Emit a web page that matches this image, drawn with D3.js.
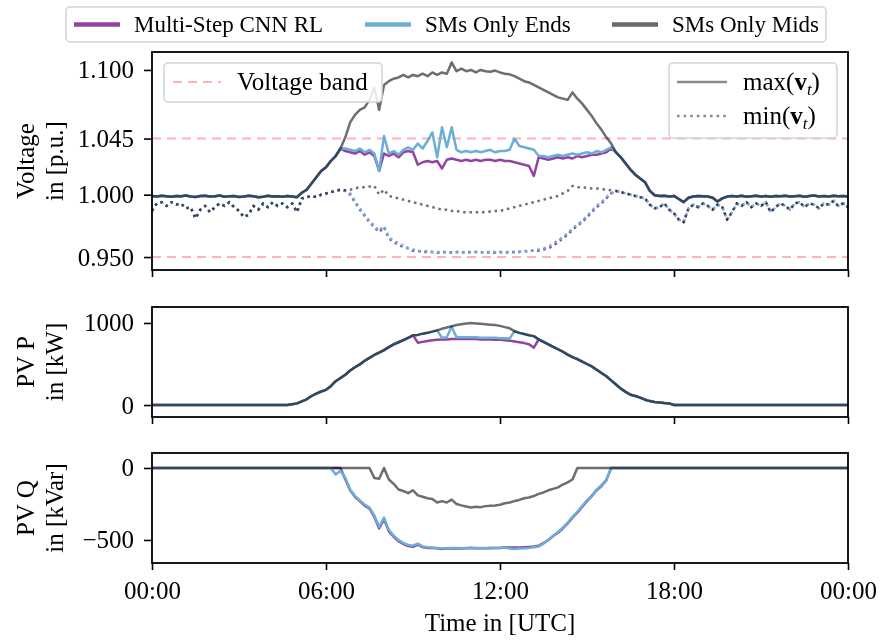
<!DOCTYPE html>
<html lang="en">
<head>
<meta charset="UTF-8">
<title>Voltage, PV P and PV Q</title>
<script src="https://d3js.org/d3.v7.min.js"></script>
<style>
  body { margin: 0; background: #fff; }
  text { font-family: "Liberation Serif", serif; fill: #000; }
</style>
</head>
<body>
<div id="chart"></div>
<script>

// time grid: one value every 10 minutes, 00:00 .. 24:00
const hours = d3.range(0, 24 * 60 + 1, 10).map(m => m / 60);

const xTickHours = [0, 6, 12, 18, 24];
const xTickLabels = ["00:00", "06:00", "12:00", "18:00", "00:00"];
const vTicks = [0.95, 1.0, 1.045, 1.1];
const pTicks = [0, 1000];
const qTicks = [-500, 0];
const vBand = [1.045, 0.95];

const methodNames = ["Multi-Step CNN RL", "SMs Only Ends", "SMs Only Mids"];
const methodColors = ["#93439f", "#6baed6", "#6e6e6e"];

// max voltage, shared night parts (00:00-06:30 and 16:00-24:00)
const vMaxMorning = [0.9990, 0.9985, 0.9992, 0.9988, 0.9983, 0.9990, 0.9987, 0.9993, 0.9986, 0.9982,
  0.9989, 0.9991, 0.9985, 0.9988, 0.9993, 0.9984, 0.9987, 0.9990, 0.9982, 0.9986,
  0.9992, 0.9987, 0.9980, 0.9984, 0.9991, 0.9985, 0.9988, 0.9984, 0.9990, 0.9986,
  0.9980, 1.0015, 1.0040, 1.0090, 1.0140, 1.0190, 1.0220, 1.0270, 1.0310, 1.0370];
const vMaxEvening = [1.034, 1.030, 1.025, 1.020, 1.016, 1.013, 1.010, 1.003, 0.9995, 0.9990,
  0.9992, 0.9985, 0.9990, 0.9965, 0.9940, 0.9975, 0.9985, 0.9990, 0.9988, 0.9985,
  0.9975, 0.9945, 0.9970, 0.9985, 0.9990, 0.9986, 0.9991, 0.9984, 0.9988, 0.9992,
  0.9985, 0.9989, 0.9983, 0.9990, 0.9987, 0.9992, 0.9985, 0.9988, 0.9991, 0.9984,
  0.9989, 0.9993, 0.9986, 0.9990, 0.9985, 0.9991, 0.9987, 0.9989, 0.9986];
// max voltage 06:40-15:50 per method
const vMaxCnnDay = [1.035, 1.034, 1.033, 1.035, 1.032, 1.034, 1.031, 1.019, 1.033, 1.031,
  1.033, 1.030, 1.034, 1.035, 1.034, 1.024, 1.026, 1.027, 1.026, 1.027,
  1.021, 1.028, 1.029, 1.028, 1.027, 1.028, 1.027, 1.028, 1.027, 1.028,
  1.028, 1.027, 1.028, 1.027, 1.027, 1.026, 1.025, 1.024, 1.023, 1.015,
  1.030, 1.029, 1.028, 1.029, 1.030, 1.029, 1.030, 1.029, 1.031, 1.030,
  1.031, 1.032, 1.032, 1.033, 1.034, 1.037];
const vMaxEndsDay = [1.037, 1.036, 1.035, 1.037, 1.034, 1.036, 1.033, 1.019, 1.047, 1.033,
  1.035, 1.032, 1.036, 1.038, 1.036, 1.041, 1.037, 1.043, 1.050, 1.030,
  1.054, 1.038, 1.054, 1.036, 1.034, 1.035, 1.034, 1.035, 1.034, 1.035,
  1.036, 1.034, 1.035, 1.035, 1.036, 1.045, 1.039, 1.038, 1.037, 1.036,
  1.031, 1.031, 1.030, 1.031, 1.032, 1.031, 1.032, 1.033, 1.032, 1.033,
  1.034, 1.033, 1.035, 1.034, 1.036, 1.038];
const vMaxMidsDay = [1.046, 1.058, 1.064, 1.068, 1.070, 1.076, 1.086, 1.068, 1.088, 1.091,
  1.093, 1.094, 1.096, 1.094, 1.096, 1.095, 1.097, 1.095, 1.098, 1.096,
  1.098, 1.097, 1.106, 1.099, 1.101, 1.099, 1.100, 1.098, 1.100, 1.099,
  1.0985, 1.0995, 1.098, 1.097, 1.0965, 1.095, 1.093, 1.091, 1.090, 1.088,
  1.086, 1.084, 1.082, 1.080, 1.078, 1.077, 1.076, 1.082, 1.077, 1.073,
  1.068, 1.063, 1.057, 1.052, 1.046, 1.041];

// min voltage
const vMinMorning = [0.987, 0.993, 0.994, 0.991, 0.994, 0.992, 0.993, 0.989, 0.990, 0.981,
  0.988, 0.991, 0.986, 0.990, 0.993, 0.991, 0.994, 0.990, 0.987, 0.982,
  0.984, 0.991, 0.988, 0.993, 0.990, 0.994, 0.991, 0.993, 0.990, 0.993,
  0.986, 0.997, 0.998, 0.999, 0.998, 1.000, 1.001, 1.002, 1.003, 1.004];
const vMinEvening = [1.003, 1.002, 1.001, 1.000, 0.999, 0.998, 0.997, 0.992, 0.989, 0.990,
  0.993, 0.988, 0.985, 0.980, 0.978, 0.989, 0.992, 0.990, 0.993, 0.991,
  0.988, 0.992, 0.990, 0.980, 0.986, 0.993, 0.991, 0.994, 0.990, 0.993,
  0.991, 0.994, 0.986, 0.990, 0.993, 0.991, 0.988, 0.993, 0.994, 0.990,
  0.993, 0.992, 0.989, 0.993, 0.992, 0.995, 0.991, 0.993, 0.990];
const vMinCnnDay = [1.003, 1.000, 0.994, 0.988, 0.983, 0.978, 0.974, 0.970, 0.974, 0.965,
  0.962, 0.960, 0.958, 0.957, 0.955, 0.955, 0.954, 0.954, 0.954, 0.9535,
  0.954, 0.954, 0.9535, 0.954, 0.954, 0.9535, 0.954, 0.954, 0.954, 0.9535,
  0.954, 0.9535, 0.954, 0.954, 0.9535, 0.954, 0.954, 0.9545, 0.955, 0.955,
  0.955, 0.956, 0.957, 0.959, 0.962, 0.965, 0.968, 0.972, 0.975, 0.978,
  0.982, 0.986, 0.990, 0.993, 0.997, 1.001];
const vMinEndsDay = [1.003, 1.001, 0.995, 0.989, 0.984, 0.979, 0.975, 0.971, 0.975, 0.966,
  0.963, 0.961, 0.959, 0.957, 0.956, 0.955, 0.9545, 0.955, 0.954, 0.954,
  0.954, 0.9535, 0.954, 0.954, 0.9535, 0.954, 0.954, 0.954, 0.9535, 0.954,
  0.954, 0.954, 0.9535, 0.954, 0.954, 0.954, 0.9545, 0.954, 0.955, 0.955,
  0.956, 0.957, 0.958, 0.961, 0.963, 0.966, 0.969, 0.973, 0.976, 0.979,
  0.983, 0.987, 0.991, 0.994, 0.998, 1.001];
const vMinMidsDay = [1.0035, 1.004, 1.005, 1.006, 1.006, 1.0065, 1.007, 1.000, 1.004, 0.999,
  0.998, 0.997, 0.996, 0.995, 0.994, 0.993, 0.992, 0.991, 0.990, 0.989,
  0.988, 0.988, 0.987, 0.987, 0.986, 0.986, 0.986, 0.986, 0.986, 0.986,
  0.9865, 0.987, 0.987, 0.988, 0.989, 0.990, 0.991, 0.992, 0.993, 0.994,
  0.995, 0.996, 0.997, 0.998, 0.999, 1.001, 1.003, 1.007, 1.006, 1.006,
  1.0055, 1.005, 1.005, 1.0045, 1.004, 1.0035];

// PV active power, available profile (all methods outside 09:10-13:10)
const pShared = [0, 0, 0, 0, 0, 0, 0, 0, 0, 0,
  0, 0, 0, 0, 0, 0, 0, 0, 0, 0,
  0, 0, 0, 0, 0, 0, 0, 0, 0,
  10, 20, 45, 70, 110, 140, 165, 185, 230, 290,
  330, 370, 420, 460, 495, 540, 575, 610, 640, 670,
  705, 740, 765, 790, 820, 850, 855, 870, 880, 895,
  910, 930, 945, 960, 975, 985, 995, 1000, 995, 990,
  985, 980, 975, 965, 950, 935, 900, 880, 865, 850,
  840, 800, 770, 740, 710, 680, 650, 615, 585, 560,
  530, 500, 470, 430, 390, 350, 300, 250, 200, 160,
  125, 110, 90, 65, 48, 38, 32, 25, 20, 0,
  0, 0, 0, 0, 0, 0, 0, 0, 0, 0,
  0, 0, 0, 0, 0, 0, 0, 0, 0, 0,
  0, 0, 0, 0, 0, 0, 0, 0, 0, 0,
  0, 0, 0, 0, 0, 0];
// curtailed P 09:10-13:10
const pCnnMid = [760, 770, 780, 790, 795, 800, 800, 805, 805, 805, 805, 805, 805,
  800, 800, 800, 795, 795, 790, 785, 775, 765, 755, 740, 700];
const pEndsMid = [855, 870, 880, 895, 910, 820, 825, 955, 825, 825, 825, 825, 825,
  820, 820, 820, 820, 815, 815, 810, 900, 880, 865, 850, 840];

// PV reactive power: zero at night (00:00-06:10 and 16:00-24:00)
const qMorning = [0, 0, 0, 0, 0, 0, 0, 0, 0, 0, 0, 0, 0, 0, 0, 0, 0, 0, 0,
  0, 0, 0, 0, 0, 0, 0, 0, 0, 0, 0, 0, 0, 0, 0, 0, 0, 0, 0];
const qEvening = [0, 0, 0, 0, 0, 0, 0, 0, 0, 0, 0, 0, 0, 0, 0, 0, 0, 0, 0, 0, 0, 0, 0, 0, 0,
  0, 0, 0, 0, 0, 0, 0, 0, 0, 0, 0, 0, 0, 0, 0, 0, 0, 0, 0, 0, 0, 0, 0, 0];
// Q 06:20-15:50 per method
const qCnnDay = [0, 0, -80, -155, -200, -230, -262, -282, -340, -420,
  -355, -440, -478, -508, -528, -542, -548, -532, -550, -555,
  -556, -558, -562, -560, -560, -558, -560, -558, -557, -558,
  -558, -557, -557, -556, -555, -550, -552, -553, -552, -550,
  -548, -546, -540, -522, -500, -473, -450, -420, -385, -345,
  -310, -270, -230, -195, -155, -125, -85, 0];
const qEndsDay = [-45, -20, -70, -150, -195, -225, -255, -275, -330, -410,
  -345, -430, -470, -500, -520, -535, -540, -525, -545, -550,
  -552, -555, -560, -558, -556, -555, -558, -555, -553, -555,
  -556, -555, -554, -555, -555, -553, -560, -562, -560, -558,
  -555, -550, -545, -525, -500, -470, -445, -415, -380, -340,
  -305, -265, -225, -190, -150, -120, -80, 0];
const qMidsDay = [0, 0, 0, 0, 0, 0, 0, 0, -70, -75,
  0, -80, -110, -150, -160, -175, -155, -190, -200, -210,
  -215, -240, -230, -240, -220, -250, -260, -268, -275, -270,
  -272, -265, -262, -260, -255, -245, -240, -230, -222, -210,
  -205, -195, -180, -170, -155, -145, -135, -115, -100, -80,
  0, 0, 0, 0, 0, 0, 0, 0];

// assemble full-day series for each method
const series = [
  {
    name: methodNames[0], color: methodColors[0], blend: "normal",
    vmax: [...vMaxMorning, ...vMaxCnnDay, ...vMaxEvening],
    vmin: [...vMinMorning, ...vMinCnnDay, ...vMinEvening],
    p: [...pShared.slice(0, 55), ...pCnnMid, ...pShared.slice(80)],
    q: [...qMorning, ...qCnnDay, ...qEvening]
  },
  {
    name: methodNames[1], color: methodColors[1], blend: "normal",
    vmax: [...vMaxMorning, ...vMaxEndsDay, ...vMaxEvening],
    vmin: [...vMinMorning, ...vMinEndsDay, ...vMinEvening],
    p: [...pShared.slice(0, 55), ...pEndsMid, ...pShared.slice(80)],
    q: [...qMorning, ...qEndsDay, ...qEvening]
  },
  {
    name: methodNames[2], color: methodColors[2], blend: "multiply",
    vmax: [...vMaxMorning, ...vMaxMidsDay, ...vMaxEvening],
    vmin: [...vMinMorning, ...vMinMidsDay, ...vMinEvening],
    p: pShared,
    q: [...qMorning, ...qMidsDay, ...qEvening]
  }
];

const width = 883, height = 642;
const fontSize = 25;

const svg = d3.select("#chart")
  .append("svg")
  .attr("width", width)
  .attr("height", height)
  .style("background", "#fff");

const x = d3.scaleLinear().domain([0, 24]).range([152, 848]);
const yV = d3.scaleLinear().domain([0.9396, 1.1144]).range([270, 52]);
const yP = d3.scaleLinear().domain([-146, 1195]).range([417, 307]);
const yQ = d3.scaleLinear().domain([-660, 104]).range([563, 453]);

function styleAxis(g) {
  g.select(".domain").remove();
  g.selectAll(".tick line").attr("stroke", "#000").attr("stroke-width", 1.6);
  g.selectAll(".tick text")
    .attr("font-family", "Liberation Serif")
    .attr("font-size", fontSize)
    .attr("fill", "#000");
}

function drawPanel(y, yTicks, yFormat, showX, labelLines, draw) {
  const [bottom, top] = y.range();
  const g = svg.append("g");

  draw(g);

  // x axis
  g.append("g")
    .attr("transform", `translate(0,${bottom})`)
    .call(d3.axisBottom(x).tickValues(xTickHours).tickSize(7).tickPadding(11)
      .tickFormat((d, i) => showX ? xTickLabels[i] : ""))
    .call(styleAxis);

  // y axis
  g.append("g")
    .attr("transform", `translate(${x.range()[0]},0)`)
    .call(d3.axisLeft(y).tickValues(yTicks).tickSize(8).tickPadding(10).tickFormat(yFormat))
    .call(styleAxis);

  // frame
  g.append("rect")
    .attr("x", x.range()[0]).attr("y", top)
    .attr("width", x.range()[1] - x.range()[0]).attr("height", bottom - top)
    .attr("fill", "none").attr("stroke", "#000").attr("stroke-width", 1.8);

  // two-line y label
  const lab = g.append("text")
    .attr("transform", `translate(34,${(top + bottom) / 2}) rotate(-90)`)
    .attr("text-anchor", "middle")
    .attr("font-size", fontSize);
  lab.append("tspan").attr("x", 0).attr("dy", 0).text(labelLines[0]);
  lab.append("tspan").attr("x", 0).attr("dy", 29).text(labelLines[1]);
  return g;
}

function addLine(g, values, y, s, dotted) {
  g.append("path")
    .datum(values)
    .attr("fill", "none")
    .attr("stroke", s.color)
    .attr("stroke-width", dotted ? 2.5 : 2.5)
    .attr("stroke-dasharray", dotted ? "2.5,3.8" : null)
    .attr("stroke-linejoin", "round")
    .style("mix-blend-mode", s.blend)
    .attr("d", d3.line().x((d, i) => x(hours[i])).y(d => y(d)));
}

// voltage panel
drawPanel(yV, vTicks, d3.format(".3f"), false, ["Voltage", "in [p.u.]"], g => {
  g.selectAll(".band")
    .data(vBand)
    .join("line")
    .attr("x1", x(0)).attr("x2", x(24))
    .attr("y1", d => yV(d)).attr("y2", d => yV(d))
    .attr("stroke", "#ffb3b3").attr("stroke-width", 2)
    .attr("stroke-dasharray", "9,6");
  series.forEach(s => addLine(g, s.vmax, yV, s, false));
  series.forEach(s => addLine(g, s.vmin, yV, s, true));
});

// PV P panel
drawPanel(yP, pTicks, d3.format("d"), false, ["PV P", "in [kW]"], g => {
  series.forEach(s => addLine(g, s.p, yP, s, false));
});

// PV Q panel
drawPanel(yQ, qTicks, d3.format("d"), true, ["PV Q", "in [kVar]"], g => {
  series.forEach(s => addLine(g, s.q, yQ, s, false));
});

// x label
svg.append("text")
  .attr("x", 500).attr("y", 631)
  .attr("text-anchor", "middle")
  .attr("font-size", fontSize)
  .text("Time in [UTC]");

// top legend
const legTop = svg.append("g");
legTop.append("rect")
  .attr("x", 66).attr("y", 7).attr("width", 760).attr("height", 35).attr("rx", 4)
  .attr("fill", "#fff").attr("stroke", "#d4d4d4").attr("stroke-width", 1.5);
const legX = [74, 365, 612];
series.forEach((s, i) => {
  legTop.append("line")
    .attr("x1", legX[i]).attr("x2", legX[i] + 46)
    .attr("y1", 24.5).attr("y2", 24.5)
    .attr("stroke", i === 2 ? "#6a6a6a" : s.color).attr("stroke-width", 4.5);
  legTop.append("text")
    .attr("x", legX[i] + 60).attr("y", 32)
    .attr("font-size", 23)
    .text(s.name);
});

// voltage band legend
const legBand = svg.append("g");
legBand.append("rect")
  .attr("x", 164).attr("y", 63).attr("width", 218).attr("height", 39).attr("rx", 4)
  .attr("fill", "#fff").attr("fill-opacity", 0.85).attr("stroke", "#d4d4d4").attr("stroke-width", 1.5);
legBand.append("line")
  .attr("x1", 173).attr("x2", 221).attr("y1", 82).attr("y2", 82)
  .attr("stroke", "#ffb3b3").attr("stroke-width", 2).attr("stroke-dasharray", "9,6");
legBand.append("text").attr("x", 237).attr("y", 90).attr("font-size", fontSize).text("Voltage band");

// max/min legend
const legMm = svg.append("g");
legMm.append("rect")
  .attr("x", 669).attr("y", 63).attr("width", 168).attr("height", 75).attr("rx", 4)
  .attr("fill", "#fff").attr("fill-opacity", 0.85).attr("stroke", "#d4d4d4").attr("stroke-width", 1.5);
[["max", 82, null], ["min", 116, "2.6,4"]].forEach(([fn, yy, dash]) => {
  legMm.append("line")
    .attr("x1", 677).attr("x2", 727).attr("y1", yy).attr("y2", yy)
    .attr("stroke", "#8a8a8a").attr("stroke-width", 2.6).attr("stroke-dasharray", dash);
  const t = legMm.append("text").attr("x", 743).attr("y", yy + 8).attr("font-size", fontSize);
  t.append("tspan").text(fn + "(");
  t.append("tspan").attr("font-weight", "bold").text("v");
  t.append("tspan").attr("font-style", "italic").attr("font-size", 17).attr("dy", 5).text("t");
  t.append("tspan").attr("dy", -5).text(")");
});
</script>
</body>
</html>
